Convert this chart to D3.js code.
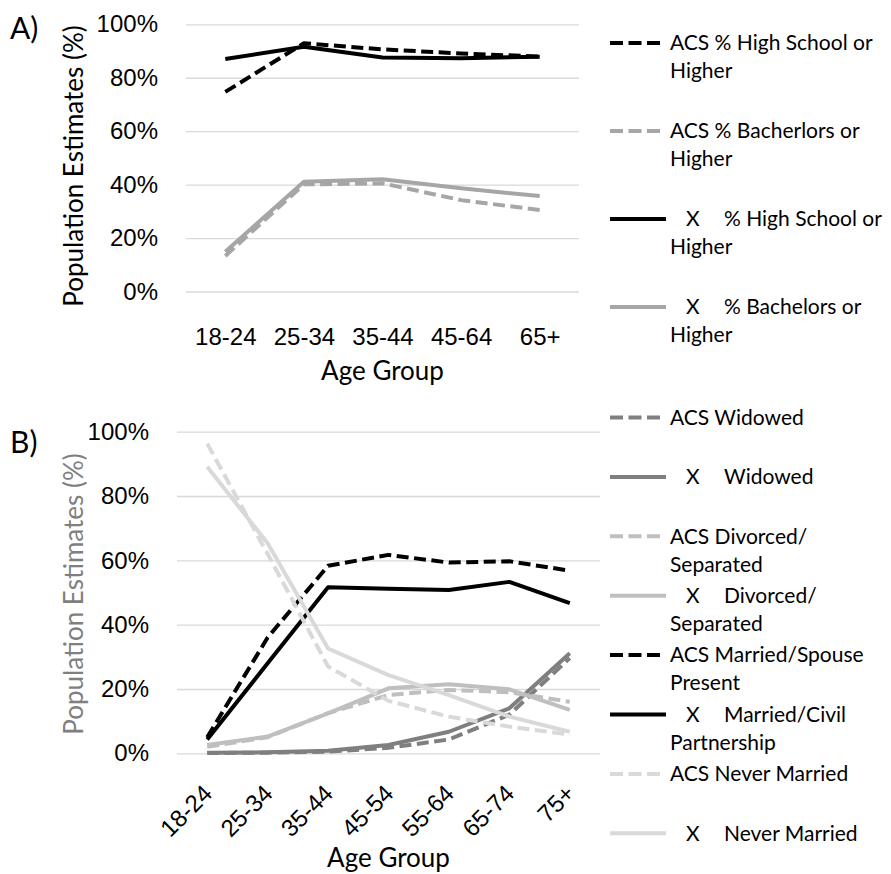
<!DOCTYPE html>
<html>
<head>
<meta charset="utf-8">
<script src="https://cdn.jsdelivr.net/npm/d3@7"></script>
<style>
  body { margin: 0; background: #fff; }
  svg { font-family: Lato, "Open Sans", sans-serif; }
</style>
</head>
<body>
<svg class="chart"></svg>
<script>
// Panel A: education
const AGE_GROUPS_A = ["18-24", "25-34", "35-44", "45-64", "65+"];
const ACS_HIGH_SCHOOL = [74.7, 92.9, 90.6, 89.1, 87.9];
const X_HIGH_SCHOOL = [87.0, 91.6, 87.6, 87.3, 87.9];
const ACS_BACHELORS = [13.3, 40.1, 40.5, 34.2, 30.5];
const X_BACHELORS = [14.9, 41.1, 42.0, 38.6, 35.7];

// Panel B: marital status
const AGE_GROUPS_B = ["18-24", "25-34", "35-44", "45-54", "55-64", "65-74", "75+"];
const ACS_WIDOWED = [0.1, 0.2, 0.5, 1.7, 4.3, 12.0, 29.6];
const X_WIDOWED = [0.2, 0.3, 0.8, 2.6, 6.7, 14.0, 31.1];
const ACS_DIVORCED = [2.0, 5.0, 12.5, 18.1, 19.7, 19.0, 16.0];
const X_DIVORCED = [2.6, 5.2, 12.4, 20.2, 21.5, 19.9, 13.5];
const ACS_MARRIED = [5.0, 36.0, 58.3, 61.7, 59.3, 59.7, 56.8];
const X_MARRIED = [4.3, 28.0, 51.6, 51.2, 50.8, 53.3, 46.7];
const ACS_NEVER = [96.3, 62.0, 27.0, 16.3, 11.4, 8.3, 5.8];
const X_NEVER = [89.1, 65.3, 32.6, 24.3, 18.1, 11.4, 6.7];

const Y_TICKS = [0, 20, 40, 60, 80, 100];

const SERIES_A = [
    { prefix: "", label: ["ACS % High School or", "Higher"], values: ACS_HIGH_SCHOOL, color: "#000000", dashed: true },
    { prefix: "", label: ["ACS % Bacherlors or", "Higher"], values: ACS_BACHELORS, color: "#a6a6a6", dashed: true },
    { prefix: "X", label: ["% High School or", "Higher"], values: X_HIGH_SCHOOL, color: "#000000", dashed: false },
    { prefix: "X", label: ["% Bachelors or", "Higher"], values: X_BACHELORS, color: "#a6a6a6", dashed: false },
];

const SERIES_B = [
    { prefix: "", label: ["ACS Widowed"], values: ACS_WIDOWED, color: "#7f7f7f", dashed: true },
    { prefix: "X", label: ["Widowed"], values: X_WIDOWED, color: "#7f7f7f", dashed: false },
    { prefix: "", label: ["ACS Divorced/", "Separated"], values: ACS_DIVORCED, color: "#bfbfbf", dashed: true },
    { prefix: "X", label: ["Divorced/", "Separated"], values: X_DIVORCED, color: "#bfbfbf", dashed: false },
    { prefix: "", label: ["ACS Married/Spouse", "Present"], values: ACS_MARRIED, color: "#000000", dashed: true },
    { prefix: "X", label: ["Married/Civil", "Partnership"], values: X_MARRIED, color: "#000000", dashed: false },
    { prefix: "", label: ["ACS Never Married"], values: ACS_NEVER, color: "#d9d9d9", dashed: true },
    { prefix: "X", label: ["Never Married"], values: X_NEVER, color: "#d9d9d9", dashed: false },
];

const WIDTH = 891, HEIGHT = 874;
const LINE_W = 4;
const DASH = "12,5.5";
const LEGEND_DASH = "13,5.5";

const CHART = d3.select(".chart").attr("width", WIDTH).attr("height", HEIGHT);

function draw_panel(cfg) {
    const X_fxn = d3.scalePoint().domain(cfg.groups).range([cfg.left, cfg.right]).padding(0.5);
    const Y_fxn = d3.scaleLinear().domain([0, 100]).range([cfg.bottom, cfg.top]);
    const g = CHART.append("g");

    // gridlines + y labels
    const yAxis = g.append("g")
        .attr("transform", `translate(${cfg.left},0)`)
        .call(d3.axisLeft(Y_fxn).tickValues(Y_TICKS).tickFormat(d => d + "%")
            .tickSize(-(cfg.gridRight - cfg.left)).tickPadding(28));
    yAxis.select(".domain").remove();
    yAxis.selectAll(".tick line").attr("stroke", "#d9d9d9").attr("stroke-width", 1.3);
    yAxis.selectAll(".tick text").attr("font-size", 24).attr("fill", "#000").attr("font-family", null);

    // x labels
    const xAxis = g.append("g")
        .attr("transform", `translate(0,${cfg.bottom})`)
        .call(d3.axisBottom(X_fxn).tickSize(0));
    xAxis.select(".domain").remove();
    const xt = xAxis.selectAll(".tick text").attr("font-size", 24).attr("fill", "#000").attr("font-family", null);
    if (cfg.rotate) {
        xt.attr("y", null).attr("dy", "0.35em").attr("text-anchor", "end")
          .attr("transform", `translate(0,${cfg.xLabelY - cfg.bottom}) rotate(-45)`);
    } else {
        xt.attr("y", cfg.xLabelY - cfg.bottom).attr("dy", "0.35em");
    }

    // lines
    const line_fxn = d3.line().x((d, i) => X_fxn(cfg.groups[i])).y(d => Y_fxn(d));
    cfg.series.forEach(s => {
        g.append("path").datum(s.values)
            .attr("d", line_fxn)
            .attr("fill", "none")
            .attr("stroke", s.color)
            .attr("stroke-width", LINE_W)
            .attr("stroke-linejoin", "round")
            .attr("stroke-dasharray", s.dashed ? DASH : null);
    });

    // titles
    g.append("text")
        .attr("x", (cfg.left + cfg.right) / 2).attr("y", cfg.xTitleY).attr("dy", "0.35em")
        .attr("text-anchor", "middle").attr("font-size", 26).text("Age Group");
    g.append("text")
        .attr("transform", `translate(${cfg.yTitleX},${cfg.yTitleMid}) rotate(-90)`)
        .attr("dy", "0.35em").attr("text-anchor", "middle").attr("font-size", 26)
        .attr("fill", cfg.yTitleColor).text("Population Estimates (%)");
    g.append("text")
        .attr("x", 10).attr("y", cfg.letterY).attr("dy", "0.35em")
        .attr("font-size", 30).text(cfg.letter);

    // legend
    const leg = g.append("g");
    cfg.series.forEach((s, i) => {
        const y = cfg.legendTop + i * cfg.legendStep;
        leg.append("line")
            .attr("x1", 610).attr("x2", s.dashed ? 660 : 666)
            .attr("y1", y).attr("y2", y)
            .attr("stroke", s.color).attr("stroke-width", LINE_W)
            .attr("stroke-dasharray", s.dashed ? LEGEND_DASH : null);
        if (s.prefix) {
            leg.append("text").attr("x", 686).attr("y", y).attr("dy", "0.35em")
                .attr("font-size", 21).text(s.prefix);
        }
        s.label.forEach((t, j) => {
            leg.append("text")
                .attr("x", j === 0 && s.prefix ? 724 : 670)
                .attr("y", y + j * 28).attr("dy", "0.35em")
                .attr("font-size", 21).text(t);
        });
    });
}

draw_panel({
    letter: "A)", letterY: 28,
    groups: AGE_GROUPS_A, series: SERIES_A,
    left: 186, right: 579, gridRight: 579, top: 24.3, bottom: 291.5,
    xLabelY: 337, xTitleY: 371, yTitleX: 74, yTitleMid: 166, yTitleColor: "#000",
    legendTop: 43, legendStep: 88,
});

draw_panel({
    letter: "B)", letterY: 442,
    groups: AGE_GROUPS_B, series: SERIES_B, rotate: true,
    left: 177, right: 600, gridRight: 600, top: 431.7, bottom: 753.3,
    xLabelY: 789, xTitleY: 858, yTitleX: 74, yTitleMid: 594, yTitleColor: "#7f7f7f",
    legendTop: 417.5, legendStep: 59.4,
});
</script>
</body>
</html>
